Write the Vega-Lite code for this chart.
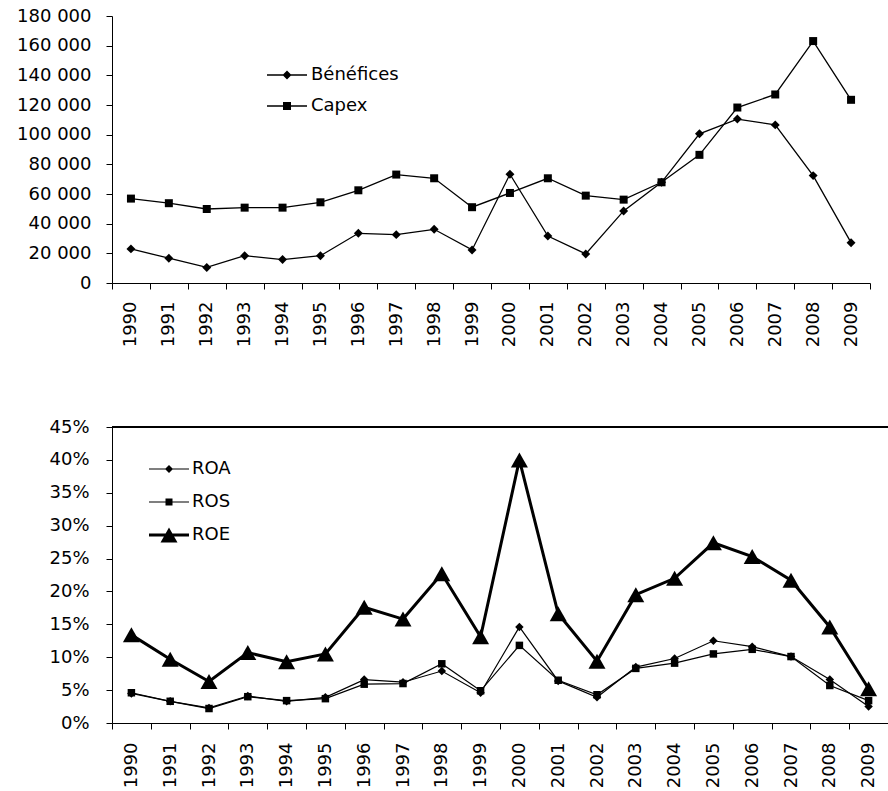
{
  "$schema": "https://vega.github.io/schema/vega-lite/v6.json",
  "padding": {"left": 16, "top": 7, "right": 0, "bottom": 0},
  "background": "white",
  "datasets": {
    "fin": [
      {"year": "1990", "Bénéfices": 23000, "Capex": 56900},
      {"year": "1991", "Bénéfices": 16700, "Capex": 53800},
      {"year": "1992", "Bénéfices": 10500, "Capex": 49900},
      {"year": "1993", "Bénéfices": 18400, "Capex": 50800},
      {"year": "1994", "Bénéfices": 15800, "Capex": 50800},
      {"year": "1995", "Bénéfices": 18400, "Capex": 54400},
      {"year": "1996", "Bénéfices": 33500, "Capex": 62500},
      {"year": "1997", "Bénéfices": 32600, "Capex": 73100},
      {"year": "1998", "Bénéfices": 36200, "Capex": 70600},
      {"year": "1999", "Bénéfices": 22300, "Capex": 51100},
      {"year": "2000", "Bénéfices": 73300, "Capex": 60700},
      {"year": "2001", "Bénéfices": 31700, "Capex": 70600},
      {"year": "2002", "Bénéfices": 19600, "Capex": 58900},
      {"year": "2003", "Bénéfices": 48600, "Capex": 56200},
      {"year": "2004", "Bénéfices": 67900, "Capex": 67900},
      {"year": "2005", "Bénéfices": 100600, "Capex": 86400},
      {"year": "2006", "Bénéfices": 110500, "Capex": 118300},
      {"year": "2007", "Bénéfices": 106600, "Capex": 127100},
      {"year": "2008", "Bénéfices": 72400, "Capex": 163100},
      {"year": "2009", "Bénéfices": 27200, "Capex": 123500}
    ],
    "ratios": [
      {"year": "1990", "ROA": 0.045, "ROS": 0.046, "ROE": 0.134},
      {"year": "1991", "ROA": 0.033, "ROS": 0.033, "ROE": 0.097},
      {"year": "1992", "ROA": 0.023, "ROS": 0.022, "ROE": 0.063},
      {"year": "1993", "ROA": 0.041, "ROS": 0.040, "ROE": 0.107},
      {"year": "1994", "ROA": 0.033, "ROS": 0.034, "ROE": 0.093},
      {"year": "1995", "ROA": 0.039, "ROS": 0.037, "ROE": 0.105},
      {"year": "1996", "ROA": 0.066, "ROS": 0.059, "ROE": 0.176},
      {"year": "1997", "ROA": 0.062, "ROS": 0.060, "ROE": 0.158},
      {"year": "1998", "ROA": 0.079, "ROS": 0.090, "ROE": 0.227},
      {"year": "1999", "ROA": 0.046, "ROS": 0.049, "ROE": 0.131},
      {"year": "2000", "ROA": 0.146, "ROS": 0.118, "ROE": 0.400},
      {"year": "2001", "ROA": 0.064, "ROS": 0.065, "ROE": 0.166},
      {"year": "2002", "ROA": 0.039, "ROS": 0.043, "ROE": 0.094},
      {"year": "2003", "ROA": 0.085, "ROS": 0.083, "ROE": 0.195},
      {"year": "2004", "ROA": 0.098, "ROS": 0.091, "ROE": 0.220},
      {"year": "2005", "ROA": 0.125, "ROS": 0.105, "ROE": 0.274},
      {"year": "2006", "ROA": 0.116, "ROS": 0.112, "ROE": 0.253},
      {"year": "2007", "ROA": 0.101, "ROS": 0.101, "ROE": 0.217},
      {"year": "2008", "ROA": 0.066, "ROS": 0.057, "ROE": 0.146},
      {"year": "2009", "ROA": 0.025, "ROS": 0.034, "ROE": 0.052}
    ]
  },
  "spacing": 71,
  "resolve": {
    "scale": {"x": "independent", "y": "independent", "shape": "independent"},
    "legend": {"shape": "independent"}
  },
  "vconcat": [
    {
      "width": 758,
      "height": 267,
      "data": {"name": "fin"},
      "transform": [{"fold": ["Bénéfices", "Capex"], "as": ["series", "value"]}],
      "encoding": {
        "x": {"field": "year", "type": "ordinal", "scale": {"type": "band", "paddingInner": 0, "paddingOuter": 0},
              "axis": {"title": null, "labelAngle": 270, "tickBand": "extent", "labelPadding": 12}},
        "y": {"field": "value", "type": "quantitative", "scale": {"domain": [0, 180000], "nice": false},
              "axis": {"title": null, "values": [0, 20000, 40000, 60000, 80000, 100000, 120000, 140000, 160000, 180000], "format": ",d", "labelPadding": 15}}
      },
      "layer": [
        {
          "mark": {"type": "line", "color": "black", "strokeWidth": 1.3},
          "encoding": {"detail": {"field": "series"}}
        },
        {
          "transform": [{"filter": "datum.series === 'Bénéfices'"}],
          "mark": {"type": "point", "filled": true, "color": "black", "opacity": 1, "size": 80, "shape": "diamond"}
        },
        {
          "transform": [{"filter": "datum.series === 'Capex'"}],
          "mark": {"type": "point", "filled": true, "color": "black", "opacity": 1, "size": 64, "shape": "square"}
        },
        {
          "transform": [{"filter": "false"}],
          "mark": {"type": "point", "filled": true, "color": "black", "opacity": 1},
          "encoding": {
            "shape": {"field": "series", "type": "nominal",
              "scale": {"domain": ["Bénéfices", "Capex"], "range": [
                "M-2,-0.065H2V0.065H-2ZM0,-0.45L0.45,0L0,0.45L-0.45,0Z",
                "M-2,-0.065H2V0.065H-2ZM-0.4,-0.4H0.4V0.4H-0.4Z"
              ]},
              "legend": {"orient": "none", "legendX": 165, "legendY": 49, "title": null, "padding": 0,
                "symbolSize": 400, "symbolFillColor": "black", "symbolStrokeColor": "black", "symbolStrokeWidth": 0, "symbolOpacity": 1,
                "labelFont": "DejaVu Sans", "labelFontSize": 18, "labelColor": "black", "labelOffset": 14, "rowPadding": 12}
            }
          }
        }
      ]
    },
    {
      "width": 776,
      "height": 296,
      "data": {"name": "ratios"},
      "transform": [{"fold": ["ROA", "ROS", "ROE"], "as": ["series", "value"]}],
      "encoding": {
        "x": {"field": "year", "type": "ordinal", "scale": {"type": "band", "paddingInner": 0, "paddingOuter": 0},
              "axis": {"title": null, "labelAngle": 270, "tickBand": "extent", "labelPadding": 13}},
        "y": {"field": "value", "type": "quantitative", "scale": {"domain": [0, 0.45], "nice": false},
              "axis": {"title": null, "values": [0, 0.05, 0.1, 0.15, 0.2, 0.25, 0.3, 0.35, 0.4, 0.45], "format": ".0%", "labelPadding": 17}}
      },
      "layer": [
        {
          "mark": {"type": "rule", "color": "black", "strokeWidth": 1},
          "encoding": {"y": {"datum": 0.45}, "x": null}
        },
        {
          "transform": [{"filter": "datum.series !== 'ROE'"}],
          "mark": {"type": "line", "color": "black", "strokeWidth": 1.2},
          "encoding": {"detail": {"field": "series"}}
        },
        {
          "transform": [{"filter": "datum.series === 'ROE'"}],
          "mark": {"type": "line", "color": "black", "strokeWidth": 3}
        },
        {
          "transform": [{"filter": "datum.series === 'ROA'"}],
          "mark": {"type": "point", "filled": true, "color": "black", "opacity": 1, "size": 72, "shape": "diamond"}
        },
        {
          "transform": [{"filter": "datum.series === 'ROS'"}],
          "mark": {"type": "point", "filled": true, "color": "black", "opacity": 1, "size": 56, "shape": "square"}
        },
        {
          "transform": [{"filter": "datum.series === 'ROE'"}],
          "mark": {"type": "point", "filled": true, "color": "black", "opacity": 1, "size": 100, "shape": "M0,-1.5L1.7,1.5H-1.7Z"}
        },
        {
          "transform": [{"filter": "false"}],
          "mark": {"type": "point", "filled": true, "color": "black", "opacity": 1},
          "encoding": {
            "shape": {"field": "series", "type": "nominal",
              "scale": {"domain": ["ROA", "ROS", "ROE"], "range": [
                "M-2,-0.06H2V0.06H-2ZM0,-0.4L0.4,0L0,0.4L-0.4,0Z",
                "M-2,-0.06H2V0.06H-2ZM-0.35,-0.35H0.35V0.35H-0.35Z",
                "M-2,-0.15H2V0.15H-2ZM0,-0.75L0.85,0.75H-0.85Z"
              ]},
              "legend": {"orient": "none", "legendX": 47, "legendY": 32, "title": null, "padding": 0,
                "symbolSize": 400, "symbolFillColor": "black", "symbolStrokeColor": "black", "symbolStrokeWidth": 0, "symbolOpacity": 1,
                "labelFont": "DejaVu Sans", "labelFontSize": 18, "labelColor": "black", "labelOffset": 13, "rowPadding": 14}
            }
          }
        }
      ]
    }
  ],
  "config": {
    "view": {"stroke": null},
    "axis": {
      "grid": false, "domainColor": "black", "domainWidth": 1, "tickColor": "black", "tickSize": 6, "tickWidth": 1,
      "labelColor": "black", "labelFont": "DejaVu Sans", "labelFontSize": 18
    },
    "locale": {"number": {"decimal": ",", "thousands": " ", "grouping": [3], "currency": ["", " €"]}}
  }
}
